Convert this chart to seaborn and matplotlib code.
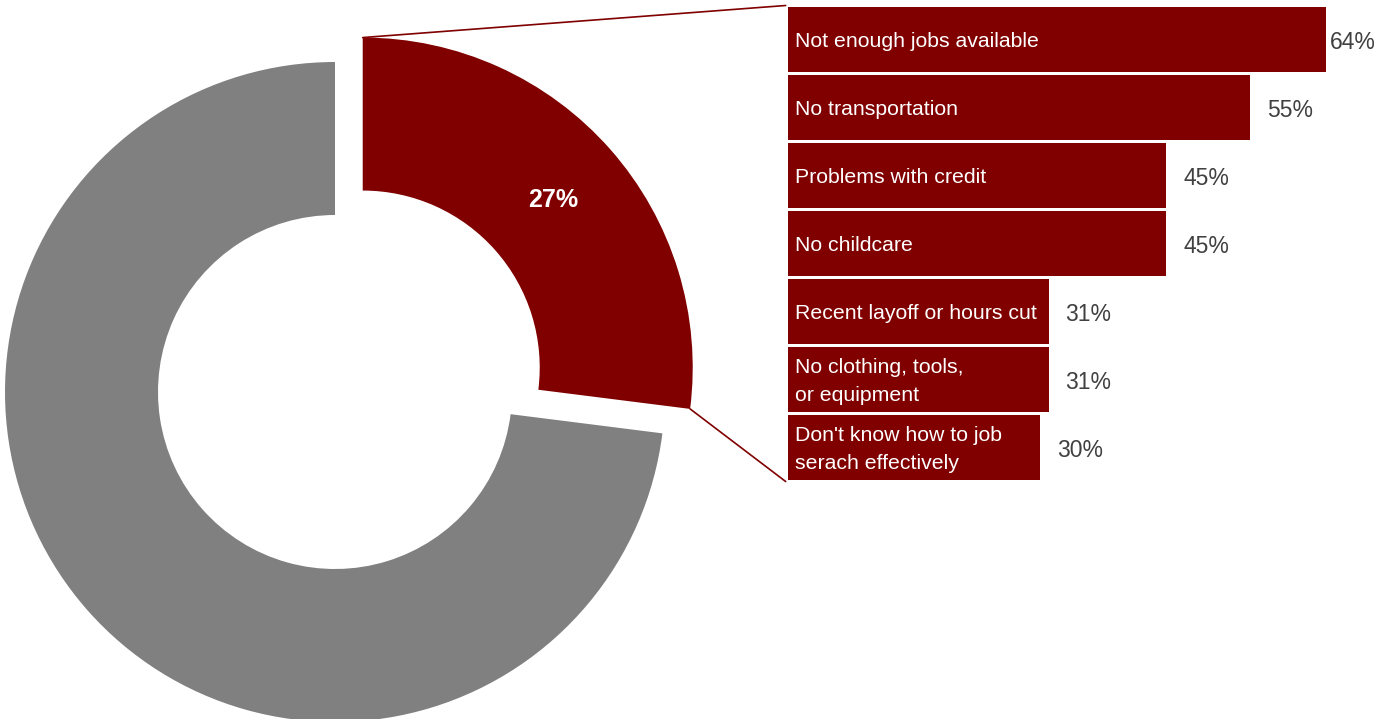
import matplotlib
matplotlib.use("Agg")
import matplotlib.pyplot as plt
import numpy as np
import pandas as pd
import seaborn as sns
from matplotlib.patches import ConnectionPatch

## data
donut_labels = ['Barrier', 'Other']
donut_values = [27, 73]

reasons = [
    'Not enough jobs available',
    'No transportation',
    'Problems with credit',
    'No childcare',
    'Recent layoff or hours cut',
    'No clothing, tools,\nor equipment',
    "Don't know how to job\nserach effectively",
]
reason_pct = [64, 55, 45, 45, 31, 31, 30]

RED = '#800000'
GRAY = '#808080'
TXT = '#404040'

sns.set_theme(style='white')
plt.rcParams['font.family'] = ['Liberation Sans', 'DejaVu Sans']

W, H = 1397, 719
fig = plt.figure(figsize=(W / 100, H / 100), dpi=100)

#### donut, drawn in a full-figure axes that uses pixel units (y up)
ax_pie = fig.add_axes([0, 0, 1, 1])
R = 330
ring = 153
wedges, _ = ax_pie.pie(donut_values, colors=[RED, GRAY], startangle=90,
                       counterclock=False, radius=R, center=(335, H - 392),
                       explode=[0.112 * R, 0],
                       wedgeprops=dict(width=ring, linewidth=0))
ax_pie.set_aspect('auto')
ax_pie.set_xlim(0, W)
ax_pie.set_ylim(0, H)
ax_pie.axis('off')

red = wedges[0]
cx, cy = red.center
tm = np.deg2rad((red.theta1 + red.theta2) / 2)
rm = R - ring / 2
ax_pie.text(cx + rm * np.cos(tm), cy + rm * np.sin(tm), f'{donut_values[0]}%',
            color='white', fontsize=18, fontweight='bold', ha='center', va='center')

#### bars
bar_left = 788
px_per_pct = 8.406
xmax = 70
top_px, bot_px = 5.5, 481.5
ax_bar = fig.add_axes([bar_left / W, (H - bot_px) / H,
                       xmax * px_per_pct / W, (bot_px - top_px) / H])
df = pd.DataFrame({'reason': reasons, 'pct': reason_pct})
sns.barplot(data=df, x='pct', y='reason', orient='h', color=RED, saturation=1,
            width=0.956, linewidth=0, ax=ax_bar)
ax_bar.set_xlim(0, xmax)
ax_bar.set_ylim(len(reasons) - 0.5, -0.5)
ax_bar.axis('off')

for i, (lab, v) in enumerate(zip(reasons, reason_pct)):
    ax_bar.text(0.8, i + 0.03, lab, color='white', fontsize=15.3, ha='left',
                va='center', linespacing=1.58)
    pad = 0.5 if v == max(reason_pct) else 2.0
    ax_bar.text(v + pad, i + 0.05, f'{v}%', color=TXT, fontsize=16.5,
                ha='left', va='center')

#### connector lines from exploded wedge to the bar block
t1, t2 = np.deg2rad(red.theta1), np.deg2rad(red.theta2)
top_pt = (cx + R * np.cos(t2), cy + R * np.sin(t2))
bot_pt = (cx + R * np.cos(t1), cy + R * np.sin(t1))
for pa, pb in [(top_pt, (-0.004, 1.0)), (bot_pt, (-0.004, 0.0))]:
    con = ConnectionPatch(xyA=pa, coordsA=ax_pie.transData,
                          xyB=pb, coordsB=ax_bar.transAxes,
                          color=RED, lw=1.2)
    fig.add_artist(con)

fig.savefig('out.png', dpi=100)
